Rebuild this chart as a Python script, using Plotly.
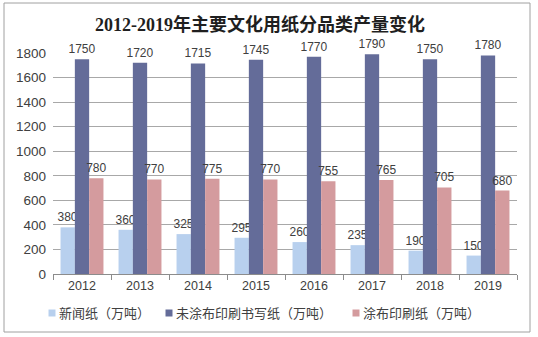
import plotly.graph_objects as go

years = ["2012", "2013", "2014", "2015", "2016", "2017", "2018", "2019"]
newsprint = [380, 360, 325, 295, 260, 235, 190, 150]
uncoated = [1750, 1720, 1715, 1745, 1770, 1790, 1750, 1780]
coated = [780, 770, 775, 770, 755, 765, 705, 680]

names = ["新闻纸（万吨）", "未涂布印刷书写纸（万吨）", "涂布印刷纸（万吨）"]
colors = ["#b8d0ee", "#646c99", "#d49b9e"]
series = [newsprint, uncoated, coated]

FONT = "Liberation Sans, Noto Sans CJK SC, sans-serif"

fig = go.Figure()
for name, vals, col in zip(names, series, colors):
    fig.add_trace(go.Bar(
        x=years, y=vals, name=name,
        marker=dict(color=col, line=dict(width=0)),
        text=[str(v) for v in vals], textposition="outside",
        constraintext="none",
        textfont=dict(size=12, color="#404040", family=FONT),
        cliponaxis=False, showlegend=False,
    ))

W, H = 538, 337
L, R, T, B = 53, 21, 53, 63
pw, ph = W - L - R, H - T - B

def px(x):
    return (x - L) / pw

def py(y):
    return (H - B - y) / ph

fig.update_layout(
    width=W, height=H,
    margin=dict(l=L, r=R, t=T, b=B),
    paper_bgcolor="white", plot_bgcolor="white",
    barmode="group", bargap=0.26, bargroupgap=0,
    font=dict(family=FONT, color="#404040"),
    title=dict(
        text="<b>2012-2019年主要文化用纸分品类产量变化</b>",
        x=260 / W, xanchor="center", y=1 - 25 / H, yanchor="middle",
        font=dict(size=18, color="#1f1f1f",
                  family="Liberation Serif, Noto Sans CJK SC, serif"),
    ),
    xaxis=dict(
        showgrid=False, showline=True, linecolor="#8c8c8c", linewidth=1,
        ticks="outside", tickson="boundaries", ticklen=5, tickcolor="#8c8c8c",
        tickfont=dict(size=12.5, color="#404040"),
    ),
    yaxis=dict(
        range=[0, 1800], dtick=200, showgrid=True, gridcolor="#a8a8a8",
        gridwidth=1, showline=False, zeroline=False,
        tickfont=dict(size=13.5, color="#404040"), ticklabelstandoff=6,
    ),
    showlegend=False,
)

# legend drawn manually (swatch + label), colours from the series
leg_x = [52, 169, 356]
for name, col, lx in zip(names, colors, leg_x):
    fig.add_shape(type="rect", xref="paper", yref="paper",
                  x0=px(lx - 3.5), x1=px(lx + 3.5),
                  y0=py(316.5), y1=py(309.5),
                  line=dict(width=0), fillcolor=col)
    fig.add_annotation(xref="paper", yref="paper", x=px(lx + 5), y=py(313),
                       xanchor="left", yanchor="middle", text=name,
                       showarrow=False,
                       font=dict(size=13, color="#404040", family=FONT))

# outer border
fig.add_shape(type="rect", xref="paper", yref="paper",
              x0=px(4), x1=px(530), y0=py(332), y1=py(3),
              line=dict(color="#a0a0a0", width=1), fillcolor="rgba(0,0,0,0)",
              layer="below")

fig.write_html("out.html")
